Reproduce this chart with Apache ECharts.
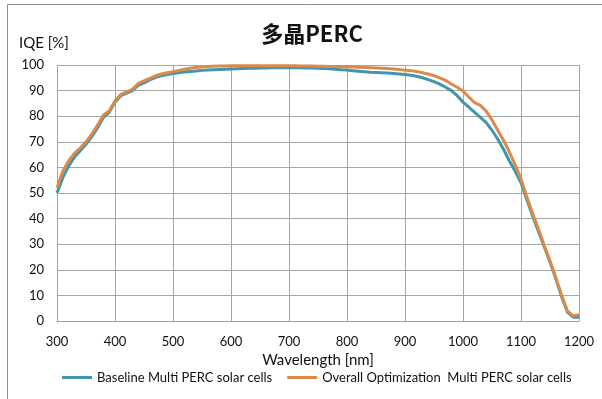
<!DOCTYPE html>
<html><head><meta charset="utf-8">
<script src="https://cdn.jsdelivr.net/npm/echarts@6/dist/echarts.min.js"></script>
<style>html,body{margin:0;padding:0;background:#fff}#c{width:602px;height:399px}</style>
</head><body><div id="c"></div>
<script>
var titleText = '多晶PERC';
var yAxisTitle = 'IQE [%]';
var xAxisTitle = 'Wavelength [nm]';
var seriesNames = ['Baseline Multi PERC solar cells', 'Overall Optimization  Multi PERC solar cells'];
var wavelengths = [300,310,320,330,340,350,360,370,380,390,400,410,420,430,440,450,460,470,480,490,500,510,520,530,540,550,560,570,580,590,600,610,620,630,640,650,660,670,680,690,700,710,720,730,740,750,760,770,780,790,800,810,820,830,840,850,860,870,880,890,900,910,920,930,940,950,960,970,980,990,1000,1010,1020,1030,1040,1050,1060,1070,1080,1090,1100,1110,1120,1130,1140,1150,1160,1170,1180,1190,1200];
var baseline = [50,56,60.5,64,66.5,69,72,75.5,79.5,81.5,85.5,88,89,90,92,93,94.2,95.2,95.8,96.3,96.7,97,97.3,97.5,97.7,97.9,98,98.1,98.2,98.3,98.4,98.5,98.6,98.7,98.7,98.8,98.8,98.9,98.9,98.9,99,98.9,98.9,98.8,98.8,98.7,98.6,98.5,98.3,98.1,98,97.8,97.6,97.4,97.2,97.1,97,96.9,96.7,96.5,96.3,96,95.6,95,94.3,93.5,92.5,91.3,90,88,85.5,83.5,81.5,79.5,77.5,74.5,71,67,62.5,58.5,54,47.5,41,35,29,23,16.5,9.5,3.5,1.5,1.5];
var optimized = [52,58.5,62.5,65.5,67.5,70,73,76.5,80.5,82,86,88.5,89.5,90.5,92.8,93.8,94.8,95.8,96.5,97,97.4,97.9,98.3,98.7,99,99.2,99.4,99.5,99.6,99.6,99.7,99.7,99.7,99.7,99.7,99.7,99.7,99.7,99.7,99.7,99.7,99.7,99.6,99.6,99.6,99.5,99.5,99.4,99.4,99.3,99.3,99.2,99.1,99,98.9,98.8,98.7,98.6,98.4,98.2,98,97.8,97.5,97,96.5,95.8,95,94,92.6,91.3,89.8,87.5,85.3,84.2,82,78.5,74.5,70.5,66,61,55.5,48.5,42,36,29.5,23.5,17,10,4,2,2.5];
var colors = ['#3f96ad', '#dc8a4a'];

function pairs(xs, ys){ return xs.map(function(x,i){ return [x, ys[i]]; }); }

var chart = echarts.init(document.getElementById('c'), null, {renderer:'canvas'});
chart.setOption({
  animation: false,
  backgroundColor: '#fff',
  title: {
    text: titleText, left: 307, top: 18, textAlign: 'center',
    textStyle: {fontFamily: '"Noto Sans CJK SC", sans-serif', fontWeight: 'bold', fontSize: 22, color: '#111'}
  },
  graphic: [
    {type:'line', shape:{x1:7.5,y1:4.5,x2:602,y2:4.5}, style:{stroke:'#8c8c8c', lineWidth:1}},
    {type:'line', shape:{x1:7.5,y1:4.5,x2:7.5,y2:399}, style:{stroke:'#8c8c8c', lineWidth:1}},
    {type:'text', left: 19, top: 36, style:{text: yAxisTitle, font: '15px Lato, sans-serif', fill:'#111'}}
  ],
  legend: {
    bottom: 10, left: 57,
    icon: 'rect', itemWidth: 30, itemHeight: 3, itemGap: 15,
    textStyle: {fontFamily: 'Lato, sans-serif', fontSize: 13, color: '#111'},
    data: seriesNames
  },
  grid: {left: 57, right: 23, top: 65, bottom: 78},
  xAxis: {
    type: 'value', min: 300, max: 1200, interval: 100,
    name: xAxisTitle, nameLocation: 'middle', nameGap: 30,
    nameTextStyle: {fontFamily: 'Lato, sans-serif', fontSize: 15, color: '#111'},
    axisLine: {show: true, lineStyle: {color: '#a0a0a0'}},
    axisTick: {show: false},
    axisLabel: {fontFamily: 'Lato, sans-serif', fontSize: 13, color: '#111', margin: 14,
      formatter: function(v){ return String(v); }},
    splitLine: {show: true, lineStyle: {color: '#a6a6a6', width: 1}}
  },
  yAxis: {
    type: 'value', min: 0, max: 100, interval: 10,
    axisLine: {show: false},
    axisTick: {show: false},
    axisLabel: {fontFamily: 'Lato, sans-serif', fontSize: 13, color: '#111', margin: 13},
    splitLine: {show: true, lineStyle: {color: '#a6a6a6', width: 1}}
  },
  series: [
    {name: seriesNames[0], type: 'line', data: pairs(wavelengths, baseline), showSymbol: false, smooth: false,
     lineStyle: {color: colors[0], width: 3}, itemStyle: {color: colors[0]}},
    {name: seriesNames[1], type: 'line', data: pairs(wavelengths, optimized), showSymbol: false, smooth: false,
     lineStyle: {color: colors[1], width: 3}, itemStyle: {color: colors[1]}}
  ]
});
</script></body></html>
